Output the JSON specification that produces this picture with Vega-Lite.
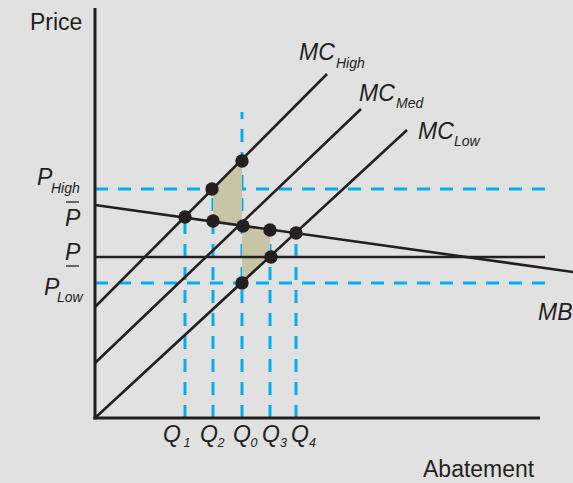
{
  "$schema": "https://vega.github.io/schema/vega-lite/v6.json",
  "width": 573,
  "height": 483,
  "padding": 0,
  "autosize": {"type": "none"},
  "background": "#e1e1e1",
  "config": {"view": {"stroke": null}},
  "datasets": {
    "axes": [
      {"id": "yaxis", "x": 0, "y": -0.15, "x2": 0, "y2": 41.0},
      {"id": "xaxis", "x": -0.15, "y": 0, "x2": 44.5, "y2": 0}
    ],
    "curves": [
      {"id": "MC_High", "x": 0, "y": 11.1, "x2": 23.2, "y2": 34.4},
      {"id": "MC_Med", "x": 0, "y": 5.5, "x2": 26.6, "y2": 30.9},
      {"id": "MC_Low", "x": 0, "y": 0, "x2": 31.2, "y2": 28.8},
      {"id": "MB", "x": 0, "y": 21.3, "x2": 47.8, "y2": 14.6},
      {"id": "P", "x": 0, "y": 16.1, "x2": 45.0, "y2": 16.1}
    ],
    "bars": [
      {"id": "Pbar_over", "x": -2.9, "x2": -1.6, "y": 21.6},
      {"id": "Punder", "x": -2.9, "x2": -1.6, "y": 15.2}
    ],
    "dashed": [
      {"id": "P_High", "x": 0, "y": 22.9, "x2": 45.0, "y2": 22.9},
      {"id": "P_Low", "x": 0, "y": 13.5, "x2": 45.0, "y2": 13.5},
      {"id": "Q1", "x": 9.0, "y": 0, "x2": 9.0, "y2": 20.1},
      {"id": "Q2", "x": 11.8, "y": 0, "x2": 11.8, "y2": 22.9},
      {"id": "Q0", "x": 14.7, "y": 0, "x2": 14.7, "y2": 30.6},
      {"id": "Q3", "x": 17.5, "y": 0, "x2": 17.5, "y2": 18.8},
      {"id": "Q4", "x": 20.1, "y": 0, "x2": 20.1, "y2": 18.5}
    ],
    "shade": [
      {"region": "upper", "x": 11.8, "top": 22.9, "bottom": 19.7},
      {"region": "upper", "x": 14.7, "top": 25.7, "bottom": 19.2},
      {"region": "lower", "x": 14.7, "top": 19.2, "bottom": 13.5},
      {"region": "lower", "x": 17.5, "top": 18.8, "bottom": 16.1}
    ],
    "dots": [
      {"id": "A", "x": 9.0, "y": 20.1},
      {"id": "B", "x": 11.7, "y": 22.9},
      {"id": "C", "x": 14.7, "y": 25.7},
      {"id": "D", "x": 11.8, "y": 19.7},
      {"id": "E", "x": 14.8, "y": 19.2},
      {"id": "F", "x": 17.5, "y": 18.8},
      {"id": "G", "x": 20.1, "y": 18.5},
      {"id": "H", "x": 17.6, "y": 16.1},
      {"id": "I", "x": 14.7, "y": 13.5}
    ],
    "plain": [
      {"text": "Price", "x": -6.5, "y": 38.8},
      {"text": "Abatement", "x": 32.8, "y": -5.87}
    ],
    "big": [
      {"text": "MC", "x": 20.4, "y": 35.8},
      {"text": "MC", "x": 26.4, "y": 31.7},
      {"text": "MC", "x": 32.3, "y": 27.9},
      {"text": "P", "x": -5.8, "y": 23.3},
      {"text": "P", "x": -3.0, "y": 19.2},
      {"text": "P", "x": -3.0, "y": 15.8},
      {"text": "P", "x": -5.1, "y": 12.3},
      {"text": "Q", "x": 6.8, "y": -2.4},
      {"text": "Q", "x": 10.5, "y": -2.4},
      {"text": "Q", "x": 13.8, "y": -2.4},
      {"text": "Q", "x": 16.7, "y": -2.4},
      {"text": "Q", "x": 19.6, "y": -2.4},
      {"text": "MB", "x": 44.3, "y": 9.8}
    ],
    "sub": [
      {"text": "High", "x": 24.1, "y": 35.0},
      {"text": "Med", "x": 30.1, "y": 31.0},
      {"text": "Low", "x": 35.9, "y": 27.2},
      {"text": "High", "x": -4.4, "y": 22.5},
      {"text": "Low", "x": -3.8, "y": 11.6}
    ],
    "digits": [
      {"text": "1", "x": 8.85, "y": -2.9},
      {"text": "2", "x": 12.25, "y": -2.9},
      {"text": "0", "x": 15.55, "y": -2.9},
      {"text": "3", "x": 18.5, "y": -2.9},
      {"text": "4", "x": 21.4, "y": -2.9}
    ]
  },
  "layer": [
    {
      "data": {"name": "dashed"},
      "mark": {"type": "rule", "color": "#00aeef", "strokeWidth": 3, "strokeDash": [13, 10], "strokeCap": "butt"},
      "encoding": {
        "x": {"field": "x", "type": "quantitative", "scale": {"domain": [-9.5, 47.8], "nice": false, "zero": false}, "axis": null},
        "y": {"field": "y", "type": "quantitative", "scale": {"domain": [-6.5, 41.8], "nice": false, "zero": false}, "axis": null},
        "x2": {"field": "x2"},
        "y2": {"field": "y2"}
      }
    },
    {
      "data": {"name": "shade"},
      "mark": {"type": "area", "color": "#c8c4a6", "opacity": 1},
      "encoding": {
        "x": {"field": "x", "type": "quantitative", "scale": {"domain": [-9.5, 47.8], "nice": false, "zero": false}, "axis": null},
        "y": {"field": "top", "type": "quantitative", "scale": {"domain": [-6.5, 41.8], "nice": false, "zero": false}, "axis": null},
        "y2": {"field": "bottom"},
        "detail": {"field": "region"}
      }
    },
    {
      "data": {"name": "curves"},
      "mark": {"type": "rule", "color": "#231f20", "strokeWidth": 2.6, "strokeCap": "butt"},
      "encoding": {
        "x": {"field": "x", "type": "quantitative", "scale": {"domain": [-9.5, 47.8], "nice": false, "zero": false}, "axis": null},
        "y": {"field": "y", "type": "quantitative", "scale": {"domain": [-6.5, 41.8], "nice": false, "zero": false}, "axis": null},
        "x2": {"field": "x2"},
        "y2": {"field": "y2"}
      }
    },
    {
      "data": {"name": "axes"},
      "mark": {"type": "rule", "color": "#231f20", "strokeWidth": 3, "strokeCap": "butt"},
      "encoding": {
        "x": {"field": "x", "type": "quantitative", "scale": {"domain": [-9.5, 47.8], "nice": false, "zero": false}, "axis": null},
        "y": {"field": "y", "type": "quantitative", "scale": {"domain": [-6.5, 41.8], "nice": false, "zero": false}, "axis": null},
        "x2": {"field": "x2"},
        "y2": {"field": "y2"}
      }
    },
    {
      "data": {"name": "bars"},
      "mark": {"type": "rule", "color": "#231f20", "strokeWidth": 1.3},
      "encoding": {
        "x": {"field": "x", "type": "quantitative", "scale": {"domain": [-9.5, 47.8], "nice": false, "zero": false}, "axis": null},
        "y": {"field": "y", "type": "quantitative", "scale": {"domain": [-6.5, 41.8], "nice": false, "zero": false}, "axis": null},
        "x2": {"field": "x2"}
      }
    },
    {
      "data": {"name": "dots"},
      "mark": {"type": "circle", "color": "#231f20", "opacity": 1, "size": 180},
      "encoding": {
        "x": {"field": "x", "type": "quantitative", "scale": {"domain": [-9.5, 47.8], "nice": false, "zero": false}, "axis": null},
        "y": {"field": "y", "type": "quantitative", "scale": {"domain": [-6.5, 41.8], "nice": false, "zero": false}, "axis": null}
      }
    },
    {
      "data": {"name": "plain"},
      "mark": {"type": "text", "align": "left", "baseline": "alphabetic", "font": "Liberation Sans", "fontSize": 23, "color": "#231f20"},
      "encoding": {
        "x": {"field": "x", "type": "quantitative", "scale": {"domain": [-9.5, 47.8], "nice": false, "zero": false}, "axis": null},
        "y": {"field": "y", "type": "quantitative", "scale": {"domain": [-6.5, 41.8], "nice": false, "zero": false}, "axis": null},
        "text": {"field": "text"}
      }
    },
    {
      "data": {"name": "big"},
      "mark": {"type": "text", "align": "left", "baseline": "alphabetic", "font": "Liberation Sans", "fontStyle": "italic", "fontSize": 23, "color": "#231f20"},
      "encoding": {
        "x": {"field": "x", "type": "quantitative", "scale": {"domain": [-9.5, 47.8], "nice": false, "zero": false}, "axis": null},
        "y": {"field": "y", "type": "quantitative", "scale": {"domain": [-6.5, 41.8], "nice": false, "zero": false}, "axis": null},
        "text": {"field": "text"}
      }
    },
    {
      "data": {"name": "sub"},
      "mark": {"type": "text", "align": "left", "baseline": "alphabetic", "font": "Liberation Sans", "fontStyle": "italic", "fontSize": 14, "color": "#231f20"},
      "encoding": {
        "x": {"field": "x", "type": "quantitative", "scale": {"domain": [-9.5, 47.8], "nice": false, "zero": false}, "axis": null},
        "y": {"field": "y", "type": "quantitative", "scale": {"domain": [-6.5, 41.8], "nice": false, "zero": false}, "axis": null},
        "text": {"field": "text"}
      }
    },
    {
      "data": {"name": "digits"},
      "mark": {"type": "text", "align": "left", "baseline": "alphabetic", "font": "Liberation Sans", "fontStyle": "italic", "fontSize": 12.5, "color": "#231f20"},
      "encoding": {
        "x": {"field": "x", "type": "quantitative", "scale": {"domain": [-9.5, 47.8], "nice": false, "zero": false}, "axis": null},
        "y": {"field": "y", "type": "quantitative", "scale": {"domain": [-6.5, 41.8], "nice": false, "zero": false}, "axis": null},
        "text": {"field": "text"}
      }
    }
  ]
}
